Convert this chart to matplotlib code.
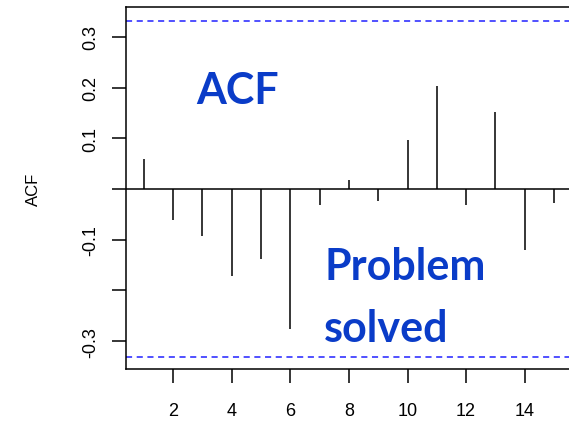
import matplotlib
matplotlib.use("Agg")
import matplotlib.pyplot as plt

# ACF values by lag
lags = [1, 2, 3, 4, 5, 6, 7, 8, 9, 10, 11, 12, 13, 14, 15]
acf_values = [0.059, -0.062, -0.092, -0.172, -0.138, -0.276, -0.032, 0.018,
              -0.024, 0.097, 0.203, -0.032, 0.152, -0.120, -0.028]
conf_limit = 0.331
x_ticks = [2, 4, 6, 8, 10, 12, 14]
y_ticks = [-0.3, -0.2, -0.1, 0.0, 0.1, 0.2, 0.3]
y_tick_labels = ["-0.3", "", "-0.1", "", "0.1", "0.2", "0.3"]

plt.rcParams["font.family"] = ["Liberation Sans", "DejaVu Sans"]

fig = plt.figure(figsize=(5.69, 4.27), dpi=100)
ax = fig.add_axes([0.221, 0.1335, 0.836, 0.8478])

ax.vlines(lags, 0, acf_values, color="black", linewidth=1.1)
ax.axhline(0, color="black", linewidth=1.1)
ax.axhline(conf_limit, color="#2020ff", linestyle=(0, (4, 3)), linewidth=1.1)
ax.axhline(-conf_limit, color="#2020ff", linestyle=(0, (4, 3)), linewidth=1.1)

ax.set_xlim(0.38, 16.62)
ax.set_ylim(-0.355, 0.359)
ax.set_xticks(x_ticks)
ax.set_yticks(y_ticks)
ax.set_yticklabels(y_tick_labels, rotation=90, va="center")
ax.tick_params(axis="both", direction="out", length=10, width=1.1,
               labelsize=13, colors="black")
ax.tick_params(axis="x", pad=14)
ax.tick_params(axis="y", pad=9)
for spine in ax.spines.values():
  spine.set_linewidth(1.1)

ax.set_ylabel("ACF", fontsize=12, labelpad=30)

blue = "#0a3cc8"
font_kw = dict(family=["Lato", "DejaVu Sans"], fontweight="bold",
               fontsize=31, color=blue, va="baseline", transform=ax.transAxes)
ax.text(0.148, 0.735, "ACF", **font_kw)
ax.text(0.417, 0.249, "Problem", **font_kw)
ax.text(0.417, 0.077, "solved", **font_kw)

fig.savefig("out.png", dpi=100)
plt.close(fig)
